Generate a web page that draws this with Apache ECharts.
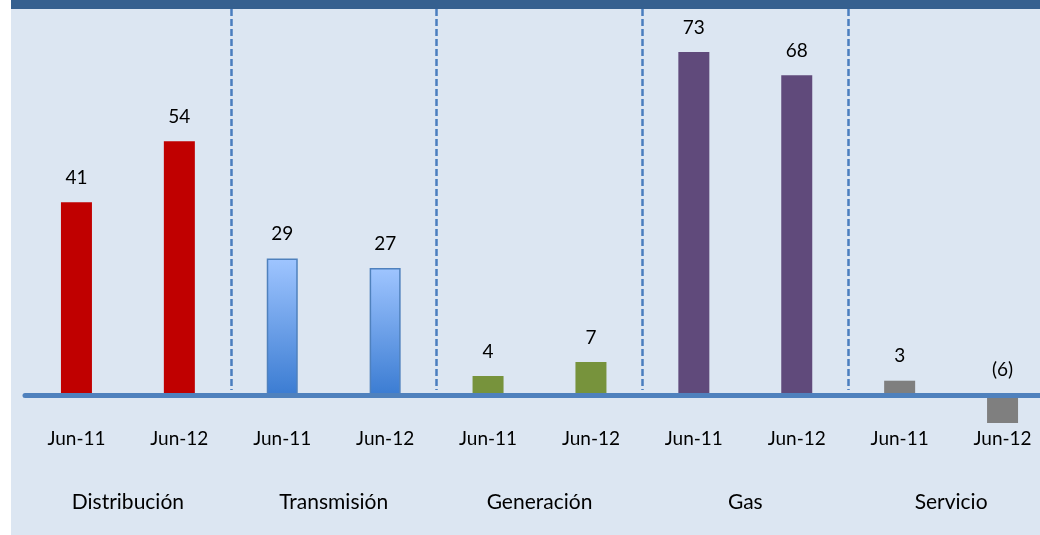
<!DOCTYPE html>
<html>
<head>
<meta charset="utf-8">
<script src="https://cdn.jsdelivr.net/npm/echarts@6/dist/echarts.min.js"></script>
<style>
  html, body { margin: 0; padding: 0; background: #fff; }
  #frame { position: absolute; left: 11px; top: 0; width: 1029px; height: 535px; border-top: 9px solid #36608f; box-sizing: border-box; background: #dce6f2; overflow: hidden; }
  #chart { width: 1070px; height: 526px; }
</style>
</head>
<body>
<div id="frame"><div id="chart"></div></div>
<script>
// periodos por segmento (2 barras cada uno)
const periods = ['Jun-11', 'Jun-12', 'Jun-11', 'Jun-12', 'Jun-11', 'Jun-12', 'Jun-11', 'Jun-12', 'Jun-11', 'Jun-12']
const segments = ['Distribución', 'Transmisión', 'Generación', 'Gas', 'Servicio']
const values = [41, 54, 29, 27, 4, 7, 73, 68, 3, -6]

// colores por segmento
const segmentColors = [
  '#c00000',
  new echarts.graphic.LinearGradient(0, 0, 0, 1, [
    { offset: 0, color: '#9fc5ff' },
    { offset: 1, color: '#3b7cd2' },
  ]),
  '#77933c',
  '#604a7b',
  '#7f7f7f',
]
const font = 'Lato, "Open Sans", sans-serif'

const chart = echarts.init(document.getElementById('chart'))

const barData = values.map((v, i) => {
  const seg = Math.floor(i / 2)
  const item = { value: v, itemStyle: { color: segmentColors[seg] } }
  if (seg === 1) {
    item.itemStyle.borderColor = '#4f81bd'
    item.itemStyle.borderWidth = 1.5
  }
  return item
})

const option = {
  animation: false,
  grid: [
    { left: 14, width: 1029, top: 10, bottom: 112 },
    { left: 14, width: 1029, top: 0, bottom: 145 },
  ],
  xAxis: [
    {
      gridIndex: 0,
      type: 'category',
      data: periods,
      z: 5,
      axisLine: { onZero: true, lineStyle: { color: '#4f81bd', width: 5 } },
      axisTick: { show: false },
      axisLabel: { margin: 6, fontSize: 19, color: '#000', fontFamily: font },
    },
    {
      gridIndex: 1,
      type: 'category',
      data: segments,
      axisLine: { show: false },
      axisTick: { show: false },
      axisLabel: { margin: 102, fontSize: 21, color: '#000', fontFamily: font },
      splitLine: {
        show: true,
        interval: function (index) {
          return index > 0 && index < segments.length
        },
        lineStyle: { color: '#4a7ebf', width: 2.5, type: [7, 3] },
      },
    },
  ],
  yAxis: [
    { gridIndex: 0, type: 'value', min: -6, max: 80, show: false },
    { gridIndex: 1, type: 'value', show: false },
  ],
  series: [
    {
      type: 'bar',
      xAxisIndex: 0,
      yAxisIndex: 0,
      barWidth: 31,
      data: barData,
      label: {
        show: true,
        position: 'top',
        distance: 15,
        fontSize: 19,
        color: '#000',
        fontFamily: font,
        formatter: (p) => (p.value < 0 ? '(' + -p.value + ')' : p.value),
      },
    },
  ],
}

chart.setOption(option)
</script>
</body>
</html>
